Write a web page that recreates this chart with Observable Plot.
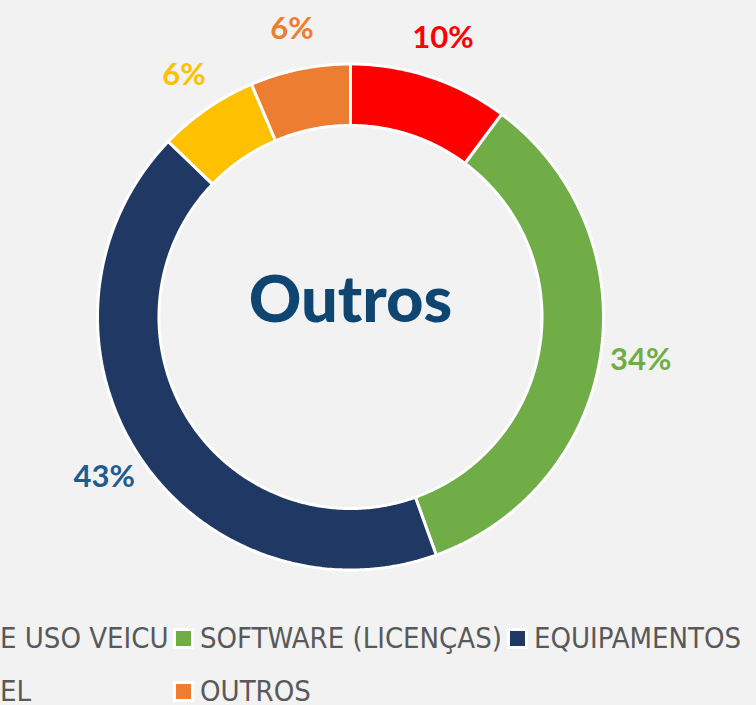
<!DOCTYPE html>
<html>
<head>
<meta charset="utf-8">
<script src="https://cdn.jsdelivr.net/npm/d3@7"></script>
<script src="https://cdn.jsdelivr.net/npm/@observablehq/plot@0.6"></script>
<style>
  html, body { margin: 0; padding: 0; background: #F2F2F2; width: 756px; height: 705px; overflow: hidden; }
  #chart { position: absolute; left: 0; top: 0; }
  #legend { position: absolute; left: 0; top: 0; width: 756px; height: 705px; pointer-events: none;
            font-family: "Liberation Sans Narrow", "DejaVu Sans Condensed", sans-serif; font-size: 29px; color: #595959; }
  .item { position: absolute; display: flex; align-items: center; white-space: nowrap; transform: translateY(-50%); }
  .sw { width: 15px; height: 15px; border: 3px solid #fff; margin-right: 6px; flex: none; }
</style>
</head>
<body>
<div id="chart"></div>
<div id="legend"></div>
<script>
// ---- data ----
const categories = ["E USO VEICU", "SOFTWARE (LICENÇAS)", "EQUIPAMENTOS", "EL", "OUTROS"];
const values = [10.2, 34.3, 42.7, 6.4, 6.4];
const labels = ["10%", "34%", "43%", "6%", "6%"];
const sliceColors = ["#FF0000", "#70AD47", "#203864", "#FFC000", "#ED7D31"];
const labelColors = ["#FF0000", "#70AD47", "#1F5C8E", "#FFC000", "#ED7D31"];
const centerTitle = "Outros";

// ---- geometry in unit coordinates (outer radius = 1) ----
const innerRatio = 0.757;
const labelRadius = 1.16;
const pie = d3.pie().sort(null).value(d => d.value).startAngle(0).endAngle(2 * Math.PI);
const rows = categories.map((c, i) => ({category: c, value: values[i], label: labels[i], color: sliceColors[i], labelColor: labelColors[i]}));
const arcs = pie(rows);

function ring(a0, a1) {
  const n = Math.max(8, Math.ceil((a1 - a0) / 0.01));
  const pts = [];
  for (let k = 0; k <= n; k++) { const t = a0 + (a1 - a0) * k / n; pts.push([Math.sin(t), Math.cos(t)]); }
  for (let k = n; k >= 0; k--) { const t = a0 + (a1 - a0) * k / n; pts.push([innerRatio * Math.sin(t), innerRatio * Math.cos(t)]); }
  pts.push(pts[0]);
  return pts;
}

const features = arcs.map(a => ({
  type: "Feature",
  properties: a.data,
  geometry: {type: "Polygon", coordinates: [ring(a.startAngle, a.endAngle)]}
}));

const labelPts = arcs.map(a => {
  const m = (a.startAngle + a.endAngle) / 2;
  return {x: labelRadius * Math.sin(m), y: labelRadius * Math.cos(m), text: a.data.label, color: a.data.labelColor};
});

const chart = Plot.plot({
  width: 756,
  height: 600,
  marginLeft: 97,
  marginRight: 153,
  marginTop: 63.5,
  marginBottom: 30.5,
  style: {background: "transparent", overflow: "visible"},
  projection: {type: "reflect-y", domain: {type: "MultiPoint", coordinates: [[-1, -1], [1, 1]]}, clip: false},
  color: {type: "identity"},
  marks: [
    Plot.geo(features, {fill: d => d.properties.color, stroke: "#fff", strokeWidth: 3, strokeLinejoin: "miter"}),
    Plot.text(labelPts, {x: "x", y: "y", text: "text", fill: "color", fontFamily: "Lato", fontWeight: 700, fontSize: 31}),
    Plot.text([centerTitle], {x: () => 0, y: () => 0, text: d => d, fill: "#0F4571", fontFamily: "Lato", fontWeight: 900, fontSize: 65, dy: -16})
  ]
});
document.getElementById("chart").appendChild(chart);

// ---- legend (HTML, below the donut) ----
const legendPos = [
  {left: -27, top: 638}, {left: 173, top: 638}, {left: 507, top: 638},
  {left: -27, top: 691}, {left: 173, top: 691}
];
const lg = document.getElementById("legend");
rows.forEach((r, i) => {
  const it = document.createElement("div");
  it.className = "item";
  it.style.left = legendPos[i].left + "px";
  it.style.top = legendPos[i].top + "px";
  const sw = document.createElement("span");
  sw.className = "sw";
  sw.style.background = r.color;
  const tx = document.createElement("span");
  tx.textContent = r.category;
  it.appendChild(sw); it.appendChild(tx);
  lg.appendChild(it);
});
</script>
</body>
</html>
